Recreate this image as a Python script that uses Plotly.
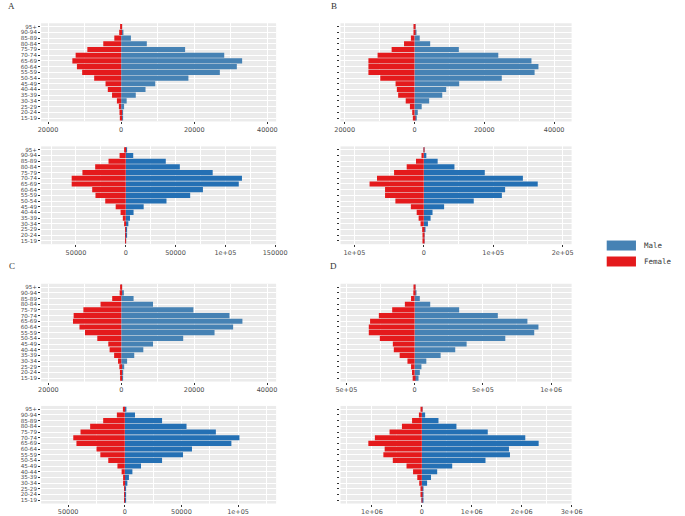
import plotly.graph_objects as go

age_groups = ["15-19", "20-24", "25-29", "30-34", "35-39", "40-44", "45-49", "50-54",
              "55-59", "60-64", "65-69", "70-74", "75-79", "80-84", "85-89", "90-94", "95+"]

# Panel A (top / bottom)
a_top_male = [270, 450, 800, 1510, 4000, 6670, 9330, 18400, 27000, 31650, 33100, 28200, 17500, 7020, 2670, 620, 50]
a_top_female = [360, 450, 620, 1160, 2490, 3650, 4270, 7380, 10670, 12100, 13350, 12450, 9250, 4890, 1870, 530, 50]
a_bot_male = [330, 650, 1300, 2600, 4250, 7850, 18000, 40900, 64700, 77500, 113500, 116700, 87300, 54300, 40200, 7500, 1000]
a_bot_female = [160, 330, 650, 1300, 2940, 5200, 10100, 20600, 30400, 33700, 54300, 54300, 43500, 30700, 17300, 6200, 1000]

# Panel B
b_top_male = [650, 935, 2060, 4200, 7950, 9070, 12800, 25000, 34400, 35500, 33500, 24000, 12700, 4490, 1500, 370, 50]
b_top_female = [470, 650, 1310, 2520, 4680, 5050, 5420, 9800, 13200, 13200, 13200, 10570, 6550, 3000, 1030, 280, 50]
b_bot_male = [500, 900, 1400, 6000, 9800, 12600, 29300, 72000, 112500, 117200, 164200, 142800, 87900, 44200, 20000, 3700, 300]
b_bot_female = [500, 900, 2300, 4650, 7400, 10200, 18600, 40900, 55800, 55800, 78100, 67400, 42800, 24600, 11200, 3300, 300]

# Panel C
c_top_male = [360, 530, 800, 1600, 3560, 6050, 8710, 17000, 25600, 30700, 33250, 29700, 19800, 8710, 3380, 710, 100]
c_top_female = [270, 360, 530, 890, 1960, 3200, 3560, 6580, 9960, 11470, 13250, 13070, 10400, 5690, 2490, 440, 100]
c_bot_male = [280, 560, 1100, 2250, 3650, 6700, 14300, 32900, 51400, 59300, 94100, 101200, 80400, 54500, 32900, 9000, 1400]
c_bot_female = [100, 140, 280, 840, 1400, 2800, 6500, 14600, 21600, 25000, 42700, 45500, 39100, 30600, 19100, 7000, 1700]

# Panel D
d_top_male = [28600, 38100, 50000, 85700, 190500, 297600, 381000, 664300, 876200, 907100, 826200, 609500, 326200, 114300, 38100, 7100, 2400]
d_top_female = [14300, 19000, 26200, 52400, 109500, 152400, 159500, 254800, 335700, 335700, 326200, 261900, 164300, 71400, 26200, 9500, 2400]
d_bot_male = [13000, 19600, 32700, 104600, 183000, 307000, 608000, 1275000, 1765000, 1745000, 2340000, 2072000, 1320000, 693000, 333000, 65400, 6500]
d_bot_female = [6500, 13000, 19600, 52300, 91500, 176000, 307000, 582000, 771000, 745000, 1072000, 941000, 647000, 399000, 196000, 58800, 19600]

# tick values / labels
ticks_20k = [-20000, 0, 20000, 40000]
labels_20k = ["20000", "0", "20000", "40000"]
ticks_a_bot = [-50000, 0, 50000, 100000, 150000]
labels_a_bot = ["50000", "0", "50000", "1e+05", "150000"]
ticks_b_bot = [-100000, 0, 100000, 200000]
labels_b_bot = ["1e+05", "0", "1e+05", "2e+05"]
ticks_c_bot = [-50000, 0, 50000, 100000]
labels_c_bot = ["50000", "0", "50000", "1e+05"]
ticks_d_top = [-500000, 0, 500000, 1000000]
labels_d_top = ["5e+05", "0", "5e+05", "1e+06"]
ticks_d_bot = [-1000000, 0, 1000000, 2000000, 3000000]
labels_d_bot = ["1e+06", "0", "1e+06", "2e+06", "3e+06"]

W, H = 685, 516
BLUE_TOP = "#4682B4"
BLUE_BOT = "#2470B4"
RED = "#E41A1C"
TEXT = "#4D4D4D"

panels = [
    # male, female, x-pixels, y-pixels, range, ticks, labels, show y labels, blue
    (a_top_male, a_top_female, (36, 277), (23.3, 121.7), [-21900, 42400], ticks_20k, labels_20k, True, BLUE_TOP),
    (a_bot_male, a_bot_female, (36, 277), (146.7, 244.7), [-85000, 151000], ticks_a_bot, labels_a_bot, True, BLUE_BOT),
    (b_top_male, b_top_female, (343, 580), (23.3, 121.7), [-21200, 45000], ticks_20k, labels_20k, False, BLUE_TOP),
    (b_bot_male, b_bot_female, (343, 580), (146.7, 244.7), [-120000, 213000], ticks_b_bot, labels_b_bot, False, BLUE_BOT),
    (c_top_male, c_top_female, (36, 277), (284.3, 382.3), [-22000, 42500], ticks_20k, labels_20k, True, BLUE_TOP),
    (c_bot_male, c_bot_female, (36, 277), (406.7, 504.5), [-73900, 133600], ticks_c_bot, labels_c_bot, True, BLUE_BOT),
    (d_top_male, d_top_female, (343, 580), (284.3, 382.3), [-543000, 1150000], ticks_d_top, labels_d_top, False, BLUE_TOP),
    (d_bot_male, d_bot_female, (343, 580), (406.7, 504.5), [-1630000, 3000000], ticks_d_bot, labels_d_bot, False, BLUE_BOT),
]

fig = go.Figure()
layout = dict(
    width=W, height=H, margin=dict(l=0, r=0, t=0, b=0),
    paper_bgcolor="white", plot_bgcolor="#EBEBEB",
    barmode="relative", bargap=0.1, showlegend=False,
    font=dict(family="DejaVu Sans", size=7, color=TEXT),
)

for i, (male, female, xp, yp, rng, tv, tt, showy, blue) in enumerate(panels, start=1):
    xa = "x" if i == 1 else f"x{i}"
    ya = "y" if i == 1 else f"y{i}"
    fig.add_trace(go.Bar(y=age_groups, x=male, orientation="h", marker=dict(color=blue, line=dict(width=0)),
                         xaxis=xa, yaxis=ya, name="Male"))
    fig.add_trace(go.Bar(y=age_groups, x=[-v for v in female], orientation="h",
                         marker=dict(color=RED, line=dict(width=0)),
                         xaxis=xa, yaxis=ya, name="Female"))
    step = tv[1] - tv[0]
    minor_vals = [t + step / 2 for t in [tv[0] - step] + tv]
    layout["xaxis" if i == 1 else f"xaxis{i}"] = dict(
        domain=[xp[0] / W, xp[1] / W], anchor=ya, range=rng,
        tickmode="array", tickvals=tv, ticktext=tt,
        ticks="outside", ticklen=2, tickcolor="#333333", tickwidth=0.8,
        showgrid=True, gridcolor="white", gridwidth=1, zeroline=False,
        minor=dict(tickvals=minor_vals, showgrid=True, gridcolor="white", gridwidth=0.5),
        tickfont=dict(family="DejaVu Sans", size=6.5, color=TEXT), fixedrange=True,
    )
    layout["yaxis" if i == 1 else f"yaxis{i}"] = dict(
        domain=[1 - yp[1] / H, 1 - yp[0] / H], anchor=xa,
        type="category", categoryorder="array", categoryarray=age_groups,
        tickmode="array", tickvals=age_groups, ticktext=age_groups,
        range=[-0.6, 16.6], ticks="outside", ticklen=2, tickcolor="#333333", tickwidth=0.8,
        showticklabels=showy, showgrid=True, gridcolor="white", gridwidth=1,
        tickfont=dict(family="DejaVu Sans", size=5.6, color=TEXT), fixedrange=True,
    )

fig.update_layout(**layout)

# panel letters
for letter, px, py in [("A", 6, 6), ("B", 336, 6), ("C", 6, 267), ("D", 336, 267)]:
    fig.add_annotation(x=px / W, y=1 - py / H, xref="paper", yref="paper", text=letter,
                       showarrow=False, xanchor="center", yanchor="middle",
                       font=dict(family="Liberation Serif", size=9, color="#333333"))

# legend
for label, color, y0 in [("Male", "#4682B4", 241), ("Female", RED, 257)]:
    fig.add_shape(type="rect", xref="paper", yref="paper",
                  x0=616 / W, x1=646 / W, y0=1 - (y0 + 10) / H, y1=1 - y0 / H,
                  fillcolor=color, line=dict(width=0))
    fig.add_annotation(x=652 / W, y=1 - (y0 + 5) / H, xref="paper", yref="paper", text=label,
                       showarrow=False, xanchor="left", yanchor="middle",
                       font=dict(family="DejaVu Sans Mono", size=7.5, color="#333333"))

fig.write_html("out.html", config={"displayModeBar": False},
               post_script="document.body.style.margin='0';document.body.style.overflow='hidden';")
